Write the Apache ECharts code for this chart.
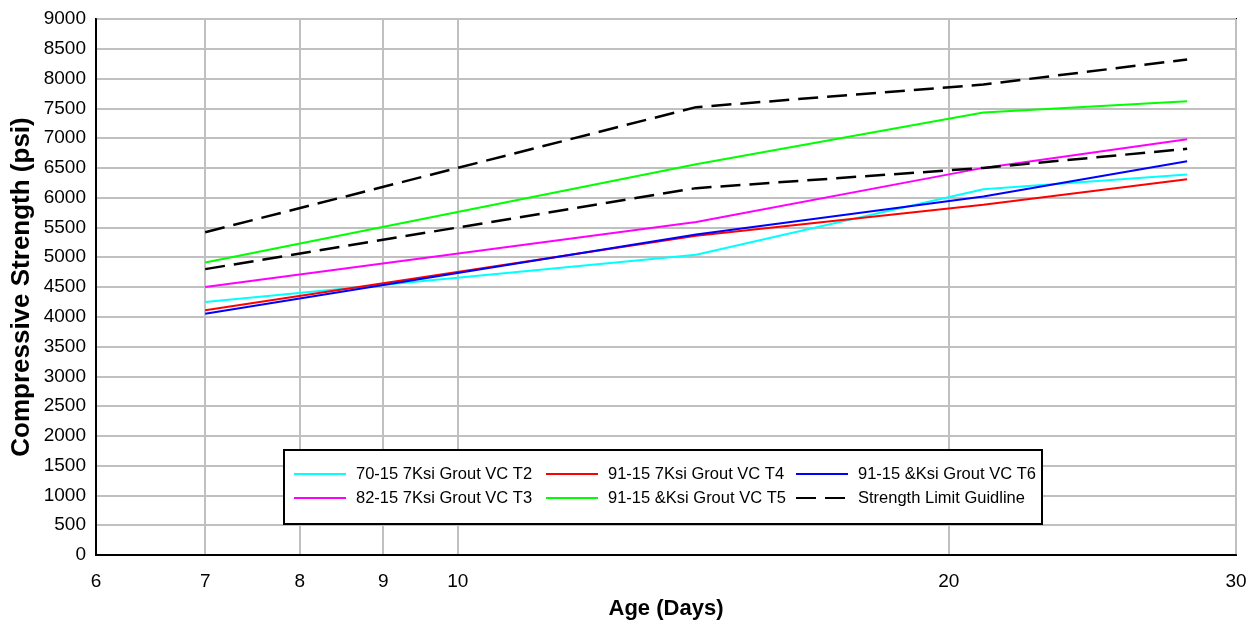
<!DOCTYPE html>
<html>
<head>
<meta charset="utf-8">
<script src="https://cdn.jsdelivr.net/npm/echarts@6/dist/echarts.min.js"></script>
<style>html,body{margin:0;padding:0;background:#fff}#c{width:1257px;height:631px}</style>
</head>
<body>
<div id="c"></div>
<script>
var ageDays = [7, 14, 21, 28];
var xLabelValues = [6, 7, 8, 9, 10, 20, 30];
var xGridValues = [6, 7, 8, 9, 10, 20, 30];
var seriesNames = ['70-15 7Ksi Grout VC T2', '91-15 7Ksi Grout VC T4', '91-15 &Ksi Grout VC T6',
                   '82-15 7Ksi Grout VC T3', '91-15 &Ksi Grout VC T5', 'Strength Limit Guidline'];
var t2 = [4250, 5040, 6140, 6390];
var t4 = [4110, 5360, 5880, 6310];
var t6 = [4050, 5380, 6020, 6610];
var t3 = [4500, 5590, 6500, 6980];
var t5 = [4910, 6560, 7430, 7620];
var limitUpper = [5420, 7520, 7900, 8320];
var limitLower = [4800, 6160, 6500, 6820];

var SANS = "'Liberation Sans', Arial, sans-serif";

function pairs(vals) { return ageDays.map(function (d, i) { return [d, vals[i]]; }); }
function solid(name, vals, color) {
  return { name: name, type: 'line', data: pairs(vals), symbol: 'none', color: color,
           lineStyle: { color: color, width: 2 }, animation: false };
}
function dashed(name, vals) {
  return { name: name, type: 'line', data: pairs(vals), symbol: 'none', color: '#000',
           lineStyle: { color: '#000', width: 2.5, type: [20, 9] }, animation: false };
}
function legendColumn(names, left) {
  return {
    data: names, left: left, top: 464, orient: 'vertical', padding: 0,
    itemGap: 4, itemWidth: 52, itemHeight: 8,
    itemStyle: { opacity: 0 },
    textStyle: { fontFamily: SANS, fontSize: 16.5, color: '#000', lineHeight: 20, padding: [0, 0, 0, 5] }
  };
}

var chart = echarts.init(document.getElementById('c'));
chart.setOption({
  backgroundColor: '#fff',
  animation: false,
  grid: { left: 96, right: 21, top: 19, bottom: 76, show: true, borderColor: '#000', borderWidth: 2,
          containLabel: false, outerBoundsMode: 'none' },
  graphic: [{
    type: 'rect', left: 283, top: 449, z: 3,
    shape: { width: 758, height: 74 },
    style: { fill: '#fff', stroke: '#000', lineWidth: 2 }
  }],
  legend: [
    legendColumn([seriesNames[0], seriesNames[3]], 293),
    legendColumn([seriesNames[1], seriesNames[4]], 545),
    legendColumn([seriesNames[2], seriesNames[5]], 795)
  ],
  xAxis: {
    type: 'log', logBase: 10, min: 6, max: 30,
    name: 'Age (Days)', nameLocation: 'middle', nameGap: 43, nameMoveOverlap: false,
    nameTextStyle: { fontFamily: SANS, fontSize: 22, fontWeight: 'bold', color: '#000' },
    axisLine: { show: true, lineStyle: { color: '#000', width: 2 } },
    axisTick: { show: false, customValues: xGridValues },
    axisLabel: { customValues: xLabelValues, fontFamily: SANS, fontSize: 19, color: '#000', margin: 17 },
    splitLine: { show: true, lineStyle: { color: '#c0c0c0', width: 2 } },
    minorSplitLine: { show: false }
  },
  yAxis: {
    type: 'value', min: 0, max: 9000, interval: 500,
    name: 'Compressive Strength (psi)', nameLocation: 'middle', nameGap: 61, nameMoveOverlap: false,
    nameTextStyle: { fontFamily: SANS, fontSize: 26, fontWeight: 'bold', color: '#000' },
    axisLine: { show: true, lineStyle: { color: '#000', width: 2 } },
    axisTick: { show: false },
    axisLabel: { fontFamily: SANS, fontSize: 19, color: '#000', margin: 10,
                 formatter: function (v) { return String(v); } },
    splitLine: { show: true, lineStyle: { color: '#c0c0c0', width: 2 } }
  },
  series: [
    solid(seriesNames[0], t2, '#00ffff'),
    solid(seriesNames[1], t4, '#ff0000'),
    solid(seriesNames[2], t6, '#0000ff'),
    solid(seriesNames[3], t3, '#ff00ff'),
    solid(seriesNames[4], t5, '#00ff00'),
    dashed(seriesNames[5], limitUpper),
    dashed(seriesNames[5], limitLower)
  ]
});
</script>
</body>
</html>
